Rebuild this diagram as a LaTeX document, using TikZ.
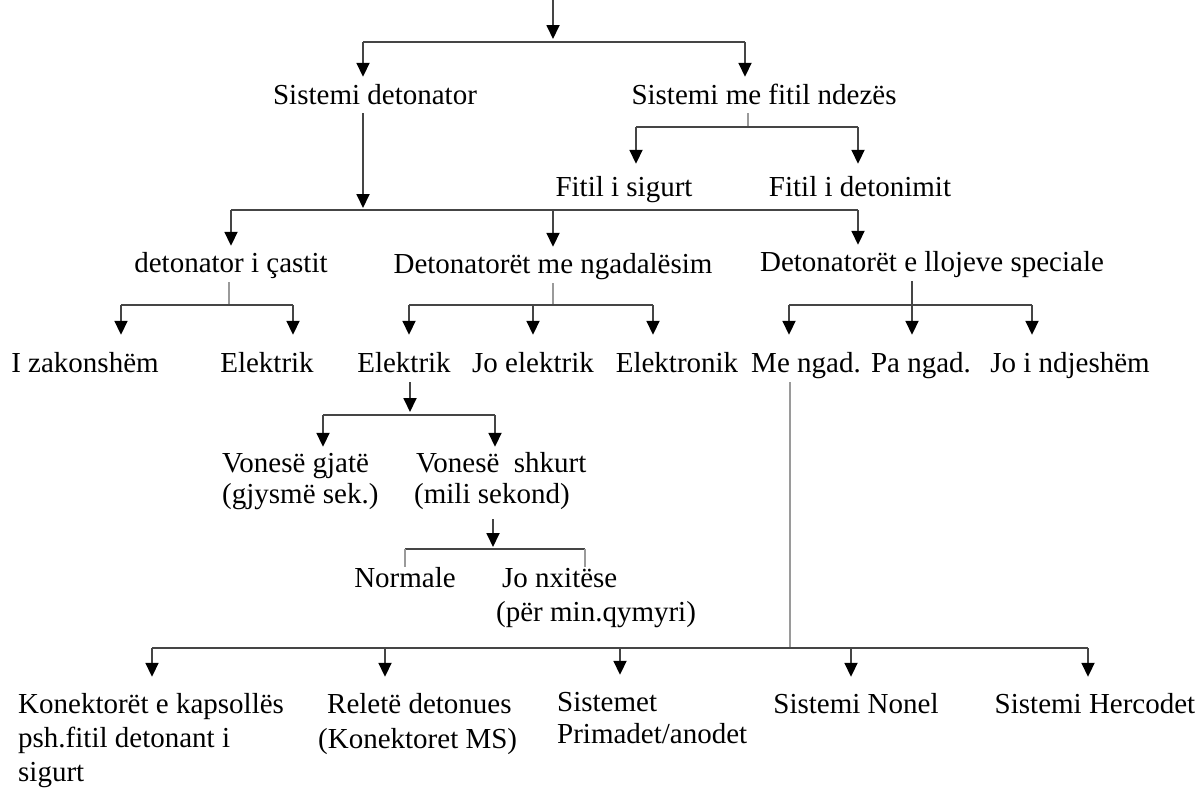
\documentclass[tikz,border=0pt]{standalone}
\usepackage{fontspec}
\setmainfont{Liberation Serif}
\usetikzlibrary{arrows.meta}
\definecolor{dk}{HTML}{454545}
\definecolor{ltc}{HTML}{9A9A9A}
\newcommand{\mlines}[1]{\begin{tabular}[t]{@{}l@{}}#1\end{tabular}}
\begin{document}
\begin{tikzpicture}[x=1pt,y=-1pt,
  lbl/.style={inner sep=0pt, anchor=base, font=\fontsize{29}{33}\selectfont, text height=20pt, text depth=7pt},
  mlbl/.style={inner sep=0pt, anchor=base west, font=\fontsize{29}{33}\selectfont, text height=20pt},
  ln/.style={draw=dk, line width=1.8pt},
  lt/.style={draw=ltc, line width=1.4pt},
  arr/.style={ln, -{Triangle[width=13pt,length=14pt,color=black]}, shorten >=#1},
  arr/.default=8pt,
]
\useasboundingbox[fill=white] (0,0) rectangle (1201,793);

% ---- labels
\node[lbl] (sd) at (375,104) {Sistemi detonator};
\node[lbl] (sm) at (764,104) {Sistemi me fitil ndezës};
\node[lbl] (fs) at (624,196) {Fitil i sigurt};
\node[lbl] (fd) at (860,196) {Fitil i detonimit};
\node[lbl] (dc) at (231,272) {detonator i çastit};
\node[lbl] (dn) at (553,273) {Detonatorët me ngadalësim};
\node[lbl] (ds) at (932,271) {Detonatorët e llojeve speciale};
\node[lbl] (iz) at (85,372) {I zakonshëm};
\node[lbl] (e1) at (267,372) {Elektrik};
\node[lbl] (e2) at (404,372) {Elektrik};
\node[lbl] (je) at (533,372) {Jo elektrik};
\node[lbl] (el) at (677,372) {Elektronik};
\node[lbl] (mn) at (806,372) {Me ngad.};
\node[lbl] (pn) at (921,372) {Pa ngad.};
\node[lbl] (ji) at (1070,372) {Jo i ndjeshëm};
\node[mlbl, font=\fontsize{29}{31}\selectfont] (vg) at (222,472) {\mlines{Vonesë gjatë\\(gjysmë sek.)}};
\node[mlbl, font=\fontsize{29}{31}\selectfont] (vs) at (414,472) {\mlines{\hspace*{2pt}Vonesë \ shkurt\\(mili sekond)}};
\node[lbl] (no) at (405,587) {Normale};
\node[mlbl, font=\fontsize{29}{34}\selectfont] (jn) at (496,587) {\mlines{\hspace*{6pt}Jo nxitëse\\(për min.qymyri)}};
\node[mlbl, font=\fontsize{29}{34}\selectfont] (k1) at (18,713) {\mlines{Konektorët e kapsollës\\psh.fitil detonant i\\sigurt}};
\node[mlbl, font=\fontsize{29}{35}\selectfont] (k2) at (318,713) {\mlines{\hspace*{9pt}Reletë detonues\\(Konektoret MS)}};
\node[mlbl, font=\fontsize{29}{32}\selectfont] (k3) at (557,711) {\mlines{Sistemet\\Primadet/anodet}};
\node[lbl] (k4) at (856,713) {Sistemi Nonel};
\node[lbl] (k5) at (1095,713) {Sistemi Hercodet};

% ---- connectors
\coordinate (t0) at (553,0);
\coordinate (b0) at (553,42);
\draw[arr=3pt] (t0) -- (b0);
\coordinate (b0L) at (363,42);
\coordinate (b0R) at (745,42);
\draw[ln] (b0L) -- (b0R);
\draw[arr=7pt] (b0L) -- (b0L |- sd.north);
\draw[arr=7pt] (b0R) -- (b0R |- sm.north);

% Sistemi me fitil ndezes
\coordinate (b1) at (748,127);
\coordinate (b1L) at (636,127);
\coordinate (b1R) at (858,127);
\draw[lt] ([yshift=-2pt]b1 |- sm.south) -- (b1);
\draw[ln] (b1L) -- (b1R);
\draw[arr=12pt] (b1L) -- (b1L |- fs.north);
\draw[arr=12pt] (b1R) -- (b1R |- fd.north);

% Sistemi detonator -> level 2
\coordinate (b2) at (363,210);
\coordinate (b2L) at (231,210);
\coordinate (b2M) at (553,210);
\coordinate (b2R) at (858,210);
\draw[arr=2pt] ([yshift=-2pt]b2 |- sd.south) -- (b2);
\draw[ln] (b2L) -- (b2R);
\draw[arr=6pt] (b2L) -- (b2L |- dc.north);
\draw[arr=6pt] (b2M) -- (b2M |- dn.north);
\draw[arr=6pt] (b2R) -- (b2R |- ds.north);

% detonator i castit
\coordinate (b3) at (229,305);
\coordinate (b3L) at (121,305);
\coordinate (b3R) at (293,305);
\draw[lt] ([yshift=-3pt]b3 |- dc.south) -- (b3);
\draw[ln] (b3L) -- (b3R);
\draw[arr=17pt] (b3L) -- (b3L |- iz.north);
\draw[arr=17pt] (b3R) -- (b3R |- e1.north);

% Detonatoret me ngadalesim
\coordinate (b4) at (553,305);
\coordinate (b4L) at (409,305);
\coordinate (b4M) at (533,305);
\coordinate (b4R) at (653,305);
\draw[lt] ([yshift=-3pt]b4 |- dn.south) -- (b4);
\draw[ln] (b4L) -- (b4R);
\draw[arr=17pt] (b4L) -- (b4L |- e2.north);
\draw[arr=17pt] (b4M) -- (b4M |- je.north);
\draw[arr=17pt] (b4R) -- (b4R |- el.north);

% Detonatoret e llojeve speciale
\coordinate (b5) at (912,305);
\coordinate (b5L) at (789,305);
\coordinate (b5R) at (1032,305);
\draw[arr=17pt] ([yshift=-3pt]b5 |- ds.south) -- (b5 |- pn.north);
\draw[ln] (b5L) -- (b5R);
\draw[arr=17pt] (b5L) -- (b5L |- mn.north);
\draw[arr=17pt] (b5R) -- (b5R |- ji.north);

% Elektrik -> vonese
\coordinate (b6) at (410,415);
\coordinate (b6L) at (323,415);
\coordinate (b6R) at (495,415);
\draw[arr=3pt] ([yshift=-3pt]b6 |- e2.south) -- (b6);
\draw[ln] (b6L) -- (b6R);
\draw[arr=5pt] (b6L) -- (b6L |- vg.north);
\draw[arr=5pt] (b6R) -- (b6R |- vs.north);

% vonese shkurt -> normale / jo nxitese
\coordinate (c7) at (493,519);
\coordinate (b7) at (493,549);
\coordinate (b7L) at (405,549);
\coordinate (b7R) at (585,549);
\draw[arr=2pt] (c7) -- (b7);
\draw[ln] (b7L) -- (b7R);
\draw[lt] (b7L) -- (b7L |- no.north);
\draw[lt] (b7R) -- (b7R |- jn.north);

% Me ngad. -> bottom
\coordinate (b8) at (790,648);
\coordinate (b8a) at (152,648);
\coordinate (b8b) at (385,648);
\coordinate (b8c) at (620,648);
\coordinate (b8d) at (851,648);
\coordinate (b8e) at (1088,648);
\draw[lt] ([yshift=-3pt]b8 |- mn.south) -- (b8);
\draw[ln] (b8a) -- (b8e);
\draw[arr=16pt] (b8a) -- (b8a |- k1.north);
\draw[arr=16pt] (b8b) -- (b8b |- k2.north);
\draw[arr=16pt] (b8c) -- (b8c |- k3.north);
\draw[arr=16pt] (b8d) -- (b8d |- k4.north);
\draw[arr=16pt] (b8e) -- (b8e |- k5.north);
\end{tikzpicture}
\end{document}
